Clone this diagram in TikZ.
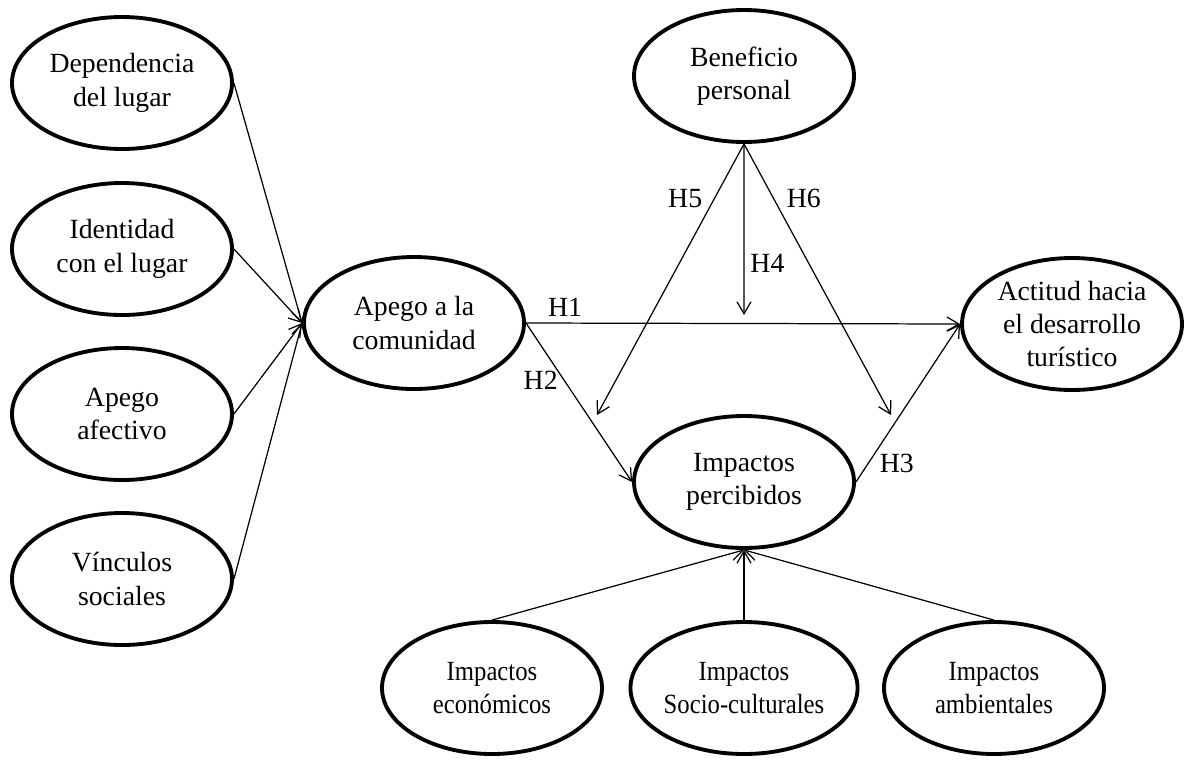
\documentclass[tikz,border=0pt]{standalone}
\usepackage{fontspec}
\setmainfont{Liberation Serif}
\newfontfamily\estrecha[FakeStretch=0.89]{Liberation Serif}
\usepackage{tikz}
\usetikzlibrary{positioning,shapes.geometric,arrows.meta}

\tikzset{
  constructo/.style={ellipse, draw, line width=2.2pt, minimum width=4.4cm,
    minimum height=2.64cm, inner sep=0pt, align=center},
  impacto/.style={constructo, font=\estrecha\fontsize{15.8}{19}\selectfont}
}

\begin{document}
\begin{tikzpicture}[on grid, >={Straight Barb[length=2.4mm,width=2.8mm]},
    font=\fontsize{15.8}{19}\selectfont]
   \useasboundingbox (0,0) rectangle (23.68,-15.18);
   \node[constructo] (dep) at (2.44,-1.66) {Dependencia\\del lugar};
   \node[constructo] (ide) [below=3.32cm of dep] {Identidad\\con el lugar};
   \node[constructo] (afe) [below=3.3cm of ide] {Apego\\afectivo};
   \node[constructo] (vin) [below=3.3cm of afe] {V\'inculos\\sociales};
   \node[constructo] (apc) [below right=1.48cm and 5.84cm of ide] {Apego a la\\comunidad};
   \node[constructo] (imp) [below right=3.18cm and 6.6cm of apc] {Impactos\\percibidos};
   \node[constructo] (ben) [above=8.12cm of imp] {Beneficio\\personal};
   \node[constructo] (act) [above right=3.16cm and 6.56cm of imp] {Actitud hacia\\el desarrollo\\tur\'istico};
   \node[impacto] (soc) [below=4.12cm of imp] {Impactos\\Socio-culturales};
   \node[impacto] (eco) [left=5.04cm of soc] {Impactos\\econ\'omicos};
   \node[impacto] (amb) [right=5cm of soc] {Impactos\\ambientales};
   \coordinate (h4fin) at (14.88,-6.3);
   \coordinate (h5fin) at (11.94,-8.3);
   \coordinate (h6fin) at (17.82,-8.3);
    \path[->, line width=0.7pt]
    (dep.east) edge (apc.west)
    (ide.east) edge (apc.west)
    (afe.east) edge (apc.west)
    (vin.east) edge (apc.west)
    (apc.east) edge node[above, pos=0.09] {H1} (act.west)
    (apc.east) edge node[left, pos=0.36] {H2} (imp.west)
    (imp.east) edge node[right, pos=0.12, xshift=0.1cm] {H3} (act.west)
    (ben.south) edge node[right, pos=0.7] {H4} (h4fin)
    (ben.south) edge node[left, pos=0.2, xshift=-0.12cm] {H5} (h5fin)
    (ben.south) edge node[right, pos=0.2, xshift=0.14cm] {H6} (h6fin)
    (eco.north) edge (imp.south)
    (soc.north) edge (imp.south)
    (amb.north) edge (imp.south);
\end{tikzpicture}
\end{document}
